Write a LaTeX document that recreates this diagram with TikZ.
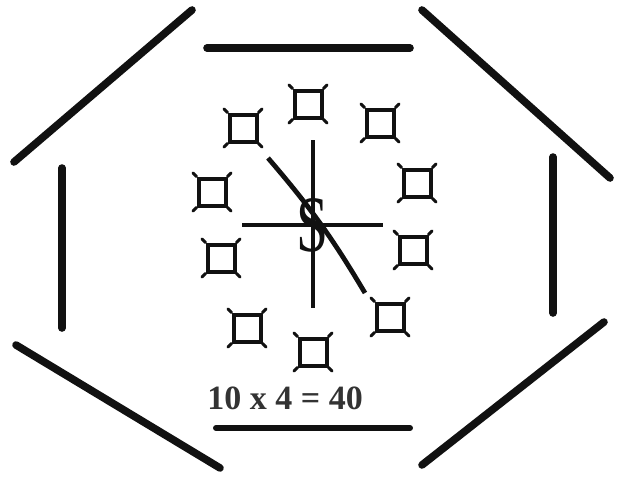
\documentclass[tikz,border=0pt]{standalone}
\usepackage{fontspec}
\setmainfont{Liberation Serif}
\usetikzlibrary{positioning}
\definecolor{Ink}{HTML}{111111}
\definecolor{Slate}{HTML}{333333}

\begin{document}
\begin{tikzpicture}[x=0.5pt,y=-0.5pt,
        side/.style={line width=3.8pt,line cap=round,draw=Ink},
        sq/.style={rectangle,draw=Ink,line width=2pt,minimum size=13.5pt,inner sep=0pt},
        tick/.style={draw=Ink,line width=1.5pt,line cap=round},
        hand/.style={draw=Ink,line width=2.4pt}]
        \useasboundingbox (0,0) rectangle (617,477);
        % octagon sides
        \coordinate (t1) at (207,48);  \coordinate (t2) at (410,48);
        \coordinate (tl1) at (14,162); \coordinate (tl2) at (192,10);
        \coordinate (tr1) at (422,10); \coordinate (tr2) at (610,178);
        \coordinate (l1) at (62,168);  \coordinate (l2) at (62,328);
        \coordinate (r1) at (553,157); \coordinate (r2) at (553,313);
        \coordinate (bl1) at (16,345); \coordinate (bl2) at (220,468);
        \coordinate (br1) at (422,465); \coordinate (br2) at (604,322);
        \coordinate (b1) at (216,428); \coordinate (b2) at (410,428);
        \draw[side] (t1)--(t2);
        \draw[side] (tl1)--(tl2);
        \draw[side] (tr1)--(tr2);
        \draw[side] (l1)--(l2);
        \draw[side] (r1)--(r2);
        \draw[side] (bl1)--(bl2);
        \draw[side] (br1)--(br2);
        \draw[side,line width=3pt] (b1)--(b2);
        % squares round the dial
        \node[sq] (s12) at (308,104) {};
        \node[sq] (s1) at (380,123) {};
        \node[sq] (s2) at (417,183) {};
        \node[sq] (s3) at (413,250) {};
        \node[sq] (s4) at (390,317) {};
        \node[sq] (s6) at (313,352) {};
        \node[sq] (s7) at (247,328) {};
        \node[sq] (s8) at (221,258) {};
        \node[sq] (s9) at (212,192) {};
        \node[sq] (s11) at (243,128) {};
        \foreach \s in {s12,s1,s2,s3,s4,s6,s7,s8,s9,s11}
          \foreach \a/\dx/\dy in {north east/1/-1,north west/-1/-1,south east/1/1,south west/-1/1}
            \draw[tick] (\s.\a) -- ++(\dx*3.5,\dy*3.5);
        % centre
        \coordinate (c) at (313,225);
        \node[font=\fontsize{40}{40}\selectfont,text=Ink,xscale=0.72] (g) at (c) {S};
        \coordinate (vt) at (313,140); \coordinate (vb) at (313,308);
        \coordinate (hl) at (242,225); \coordinate (hr) at (383,225);
        \coordinate (d1) at (268,158); \coordinate (d2) at (365,293);
        \draw[hand] (vt)--(vb);
        \draw[hand] (hl)--(hr);
        \draw[hand] (d1) to[bend left=5] (d2);
        \node[font=\bfseries\fontsize{17}{17}\selectfont,text=Slate,anchor=base west,inner sep=0pt] (eq) at (207,409) {10 x 4 = 40};
      \end{tikzpicture}
\end{document}
